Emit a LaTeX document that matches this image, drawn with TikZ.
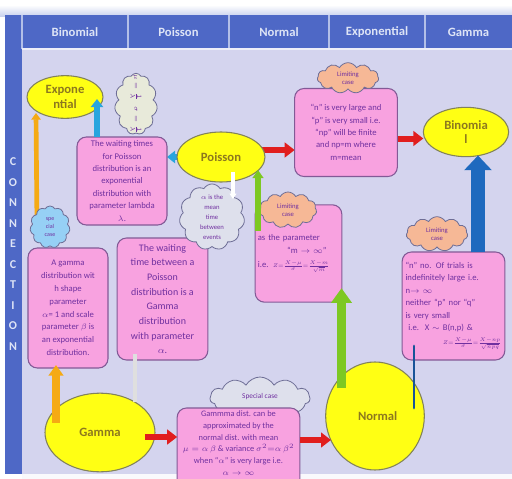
\documentclass[tikz,border=0pt]{standalone}
\usepackage{fontspec}
\setmainfont{Carlito}
\usepackage{graphicx}
\usetikzlibrary{shapes.geometric,shapes.symbols,arrows.meta,backgrounds,calc}
\definecolor{bglav}{RGB}{212,212,238}
\definecolor{headblue}{RGB}{78,104,198}
\definecolor{headtxt}{RGB}{222,228,246}
\definecolor{boxpink}{RGB}{248,162,224}
\definecolor{boxborder}{RGB}{130,90,150}
\definecolor{txtpurple}{RGB}{112,48,160}
\definecolor{yel}{RGB}{255,255,20}
\definecolor{ellborder}{RGB}{130,130,90}
\definecolor{elltxt}{RGB}{140,120,30}
\definecolor{cloudgray}{RGB}{222,224,236}
\definecolor{cloudcream}{RGB}{232,234,218}
\definecolor{cloudorange}{RGB}{246,184,150}
\definecolor{cloudblue}{RGB}{150,208,245}
\definecolor{cloudborder}{RGB}{110,110,150}
\definecolor{arrred}{RGB}{225,30,30}
\definecolor{arrcyan}{RGB}{40,165,222}
\definecolor{arrorange}{RGB}{245,170,20}
\definecolor{arrgreen}{RGB}{125,200,35}
\definecolor{arrblue}{RGB}{30,105,190}
\begin{document}
\begin{tikzpicture}[x=0.75pt,y=-0.75pt,
  every node/.style={inner sep=1pt, outer sep=0pt},
  pinkbox/.style={draw=boxborder, line width=0.8pt, fill=boxpink, rounded corners=7pt, text=txtpurple, align=center},
  yell/.style={ellipse, draw=ellborder, line width=0.8pt, fill=yel, text=elltxt, align=center, inner sep=0pt, font=\fontsize{9.5}{11}\selectfont\bfseries},
  cloudy/.style={cloud, cloud puffs=11, cloud puff arc=120, cloud ignores aspect, draw=cloudborder, line width=0.6pt, text=txtpurple, align=center, inner sep=0pt},
  headlbl/.style={text=headtxt, font=\fontsize{9.5}{10}\selectfont\bfseries},
  boxtxt/.style={font=\fontsize{6.5}{9.3}\selectfont},
  cloudtxt/.style={font=\fontsize{5}{6}\selectfont},
  redarr/.style={draw=arrred, line width=4.5pt, -{Triangle[width=11pt,length=7.5pt]}},
  cyanarr/.style={draw=arrcyan, line width=4.5pt, -{Triangle[width=9pt,length=6pt]}},
  orthin/.style={draw=arrorange, line width=3.5pt, -{Triangle[width=7pt,length=5pt]}},
  orthick/.style={draw=arrorange, line width=6pt, -{Triangle[width=11pt,length=8pt]}},
  grthin/.style={draw=arrgreen, line width=4.5pt, -{Triangle[width=8pt,length=6pt]}},
  grthick/.style={draw=arrgreen, line width=7pt, -{Triangle[width=15pt,length=11pt]}},
  bluethick/.style={draw=arrblue, line width=10pt, -{Triangle[width=20pt,length=11pt]}},
  bluethin/.style={draw=arrblue!80!black, line width=2.2pt, line cap=round},
  whitearr/.style={draw=white, line width=2.5pt, -{Triangle[width=5pt,length=4pt]}},
  grayline/.style={draw=gray!25, line width=3pt}
]
\useasboundingbox (0,0) rectangle (512,479);
\begin{scope}[on background layer]
  \fill[white] (0,0) rectangle (512,479);
  \shade[top color=white, bottom color=headblue!30] (0,5) rectangle (512,16);
  \fill[headblue] (5,15) rectangle (512,49);
  \fill[headblue] (5,15) rectangle (22,474);
  \fill[bglav] (22,49) rectangle (512,474);
  \fill[white!85!bglav] (22,474) rectangle (512,479);
  \foreach \xx in {22,128,229,329,425}
    \draw[headtxt!70!headblue, line width=1pt] (\xx,15) -- (\xx,49);
  \draw[white!60!bglav, line width=1pt] (22,49) -- (512,49);
\end{scope}

% header
\node[headlbl] (hbin) at (75,32) {Binomial};
\node[headlbl] (hpoi) at (178.5,32) {Poisson};
\node[headlbl] (hnor) at (279,32) {Normal};
\node[headlbl] (hexp) at (377,32) {Exponential};
\node[headlbl] (hgam) at (468.5,32) {Gamma};
\node[text=headtxt, align=center, font=\fontsize{9}{15.4}\selectfont\bfseries] (conn) at (13,254) {C\\O\\N\\N\\E\\C\\T\\I\\O\\N};

% boxes
\node[pinkbox, boxtxt, minimum width=67.5pt, minimum height=66pt] (wait1) at (122,181)
  {The waiting times\\for Poisson\\distribution  is an\\exponential\\distribution  with\\parameter lambda\\$\lambda$.};
\node[pinkbox, boxtxt, minimum width=77pt, minimum height=66pt] (npbox) at (346,132.5)
  {“n” is very large and\\“p” is very small i.e.\\“np” will be finite\\and np=m where\\m=mean};
\node[pinkbox, boxtxt, minimum width=65pt, minimum height=73pt, text width=61pt, align=left] (midbox) at (298.5,253.5)
  {as the parameter\\\hspace*{22pt}“m $\to\infty$”\\[1.5pt]\mbox{i.e. \scalebox{0.8}{$\scriptstyle Z=\frac{X-\mu}{\sigma}=\frac{X-m}{\sqrt{m}}$}}};
\node[pinkbox, boxtxt, minimum width=77pt, minimum height=81pt, text width=72pt, align=left] (rightbox) at (453.5,306)
  {“n” no. Of trials is\\indefinitely  large i.e.\\n$\to\infty$\\neither “p” nor “q”\\is very small\\\ i.e.\ \ X $\sim$ B(n,p) \&\\[1.5pt]\hspace*{28pt}\mbox{\scalebox{0.8}{$\scriptstyle Z=\frac{X-\mu}{\sigma}=\frac{X-np}{\sqrt{npq}}$}}};
\node[pinkbox, font=\fontsize{6.5}{9.6}\selectfont, minimum width=60pt, minimum height=90pt] (leftbox) at (68,308)
  {A gamma\\distribution  wit\\h shape\\parameter\\$\alpha$= 1 and scale\\parameter  $\beta$ is\\an exponential\\distribution.};
\node[pinkbox, font=\fontsize{7.5}{11}\selectfont, minimum width=68pt, minimum height=91.5pt] (cenbox) at (162.5,299)
  {The waiting\\time between a\\Poisson\\distribution is a\\Gamma\\distribution\\with parameter\\$\alpha$.};

% ellipses
\node[yell, minimum width=57pt, minimum height=32pt] (expo) at (65,97) {Expone\\ntial};
\node[yell, minimum width=66pt, minimum height=37.5pt] (poisson) at (221,157) {Poisson};
\node[yell, minimum width=64pt, minimum height=37pt] (binom) at (466,132) {Binomia\\l};
\node[yell, minimum width=74pt, minimum height=81pt] (normal) at (375,416) {\hspace*{4pt}Normal};
\node[yell, minimum width=82.5pt, minimum height=59pt] (gamma) at (100,432.5) {Gamma};

% clouds
\node[cloudy, fill=cloudcream, minimum width=32pt, minimum height=46pt] (expocloud) at (136,104) {};
\node[text=txtpurple, rotate=-90, font=\fontsize{4.5}{5}\selectfont] (expotxt) at (136,104)
  {$\mu=\frac{1}{\lambda}\quad\sigma=\frac{1}{\lambda}$};
\node[cloudy, fill=cloudgray, font=\fontsize{5}{7.5}\selectfont, minimum width=49pt, minimum height=49pt] (meancloud) at (212,217)
  {$\alpha$ is the\\mean\\time\\between\\events};
\node[cloudy, fill=cloudorange, cloudtxt, minimum width=46pt, minimum height=23pt] (topcloud) at (348,78) {Limiting\\case};
\node[cloudy, fill=cloudorange, cloudtxt, minimum width=43pt, minimum height=27pt] (midcloud) at (288,210) {Limiting\\case};
\node[cloudy, fill=cloudorange, cloudtxt, minimum width=46pt, minimum height=26pt] (rightcloud) at (437,234) {Limiting\\case};
\node[cloudy, fill=cloudblue, font=\fontsize{4.5}{6}\selectfont, minimum width=30pt, minimum height=31.5pt] (bluecloud) at (50,227) {spe\\cial\\case};
\node[cloudy, fill=cloudgray, font=\fontsize{5.5}{6}\selectfont, minimum width=75pt, minimum height=31.5pt] (specialcloud) at (260,398) {\raisebox{3pt}{Special case}};

% bottom box (over the special-case cloud)
\node[pinkbox, minimum width=92pt, minimum height=66pt] (botbox) at (238.5,452) {};
\node[text=txtpurple, align=center, font=\fontsize{6.3}{8.8}\selectfont] (bottxt) at (238.5,443)
  {Gammma dist.  can be\\approximated  by the\\normal dist.  with mean\\$\mu=\alpha\,\beta$ \& variance $\sigma^2{=}\alpha\,\beta^2$\\when “$\alpha$” is very large i.e.\\$\alpha\to\infty$};

% helper points
\path (poisson.center) ++(0,-7) coordinate (r1s);
\path (npbox.center) ++(0,6) coordinate (r2s);
\path (gamma.center) ++(45,4.5) coordinate (r3s);

% connectors behind nodes
\begin{scope}[on background layer]
  \draw[orthin] ($(bluecloud.center)+(-13,0)$) -- ($(expo.center)+(-29,16)$);
  \draw[cyanarr] (poisson.center) -- (poisson.center -| wait1.east);
  \draw[redarr] (r1s) -- (r1s -| npbox.west);
  \draw[redarr] (r2s) -- (r2s -| binom.west);
\end{scope}

% connectors over nodes
\draw[cyanarr] ($(wait1.north)+(-25,0)$) -- ($(expo.center)+(32,2)$);
\draw[whitearr] ($(poisson.center)+(12,15)$) -- ($(meancloud.center)+(21,-18)$);
\draw[grthin] ($(midbox.center)+(-40.5,-23)$) -- ($(poisson.center)+(37,13)$);
\draw[grthick] ($(normal.center)+(-33.5,-28)$) -- ($(midbox.south)+(43,-14)$);
\draw[bluethin] ($(normal.center)+(39,-8)$) -- ($(rightbox.center)+(-39.5,40)$);
\draw[bluethick] ($(rightbox.north)+(24.5,0)$) -- ($(binom.center)+(12,23.5)$);
\draw[orthick] ($(gamma.center)+(-44,-10)$) -- ($(leftbox.south)+(-12,-3)$);
\draw[grayline] ($(cenbox.south)+(-27.5,-6)$) -- ($(gamma.center)+(35,-31)$);
\draw[redarr] (r3s) -- (r3s -| botbox.west);
\draw[redarr] ($(botbox.east)+(0,-12)$) -- ($(normal.center)+(-44,24)$);
\end{tikzpicture}
\end{document}
